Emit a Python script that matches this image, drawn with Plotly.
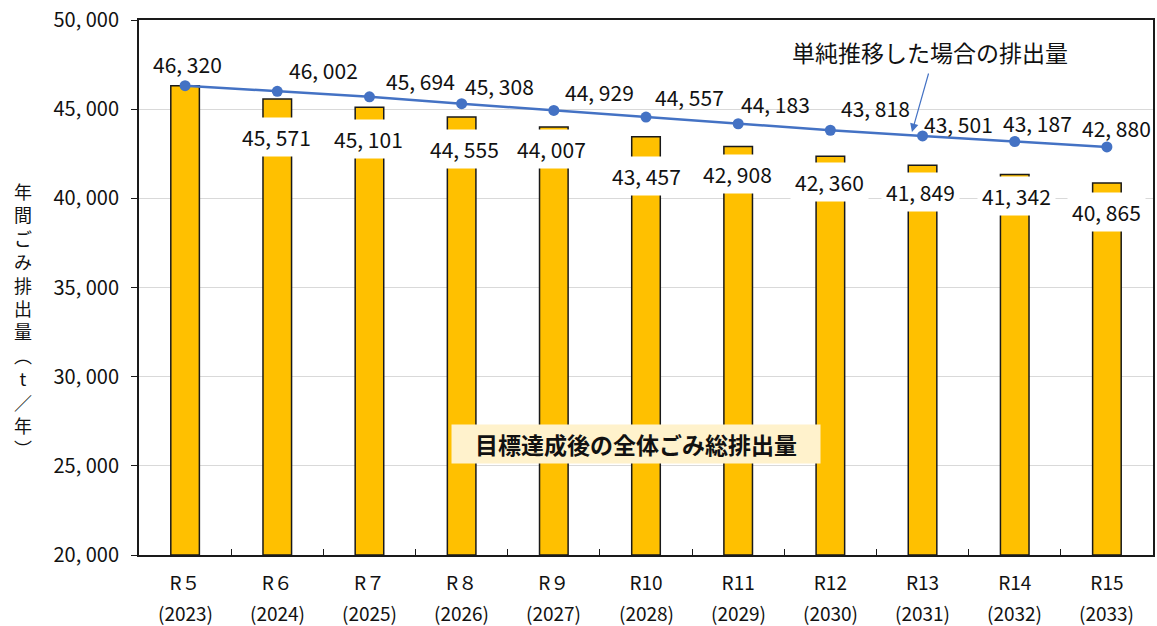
import plotly.graph_objects as go

# 年度ラベル
reiwa = ["R５", "R６", "R７", "R８", "R９", "R10", "R11", "R12", "R13", "R14", "R15"]
years = ["2023", "2024", "2025", "2026", "2027", "2028", "2029", "2030", "2031", "2032", "2033"]

# 目標達成後の全体ごみ総排出量（t/年）
target_total = [46320, 45571, 45101, 44555, 44007, 43457, 42908, 42360, 41849, 41342, 40865]
# 単純推移した場合の排出量（t/年）
trend_total = [46320, 46002, 45694, 45308, 44929, 44557, 44183, 43818, 43501, 43187, 42880]

y_ticks = [20000, 25000, 30000, 35000, 40000, 45000, 50000]

FONT = "Noto Sans CJK JP"
BAR_COLOR = "#FFC000"
LINE_COLOR = "#4472C4"
TEXT_COLOR = "#111111"


def fmt(v):
    return f"{v // 1000}, {v % 1000:03d}"


fig = go.Figure()

fig.add_trace(go.Bar(
    x=reiwa, y=[v - y_ticks[0] for v in target_total], base=y_ticks[0],
    width=0.31,
    marker=dict(color=BAR_COLOR, line=dict(color="#1a1a1a", width=1.5)),
    hoverinfo="skip",
))

fig.add_trace(go.Scatter(
    x=reiwa, y=trend_total, mode="lines+markers",
    line=dict(color=LINE_COLOR, width=2.5),
    marker=dict(color=LINE_COLOR, size=11),
    hoverinfo="skip",
))

annotations = []

# 西暦（年度ラベルの下段）
for cat, yr in zip(reiwa, years):
    annotations.append(dict(
        x=cat, xref="x", yref="paper", y=(555 - 612) / 535, text=f"({yr})",
        showarrow=False, xanchor="center", yanchor="middle",
        font=dict(family=FONT, size=19, color=TEXT_COLOR),
    ))

# 線グラフの数値ラベル（点からの位置ずらし: px）
line_label_shift = [(2, 22), (46, 21), (51, 16), (38, 18), (46, 18), (43, 20),
                    (37, 20), (45, 22), (36, 12), (23, 19), (10, 19)]
for cat, v, (dx, dy) in zip(reiwa, trend_total, line_label_shift):
    annotations.append(dict(
        x=cat, y=v, text=fmt(v), showarrow=False, xshift=dx, yshift=dy,
        xanchor="center", yanchor="middle",
        font=dict(family=FONT, size=21, color=TEXT_COLOR),
    ))

# 棒グラフの数値ラベル（棒の上端からの位置ずらし: px）
bar_label_shift = [None, (-1, 38), (-1, 32), (3, 32), (-2, 22), (0, 39),
                   (-1, 28), (-1, 26), (-2, 27), (2, 22), (0, 29)]
for cat, v, sh in zip(reiwa, target_total, bar_label_shift):
    if sh is None:
        continue
    dx, dy = sh
    annotations.append(dict(
        x=cat, y=v, text=fmt(v), showarrow=False, xshift=dx, yshift=-dy,
        xanchor="center", yanchor="middle",
        font=dict(family=FONT, size=21, color=TEXT_COLOR),
        bgcolor="white", borderpad=4,
    ))

# 系列名
annotations.append(dict(
    xref="paper", yref="paper", x=0.780, y=0.940, text="単純推移した場合の排出量",
    xanchor="center", yanchor="middle",
    showarrow=False, font=dict(family=FONT, size=23, color=TEXT_COLOR),
))
annotations.append(dict(
    xref="paper", yref="paper", x=0.7623, y=0.7907, text="",
    showarrow=True, ax=17, ay=-60, arrowhead=2, arrowsize=1.4, arrowwidth=1.2,
    arrowcolor=LINE_COLOR,
))
annotations.append(dict(
    xref="paper", yref="paper", x=0.490, y=0.2075, text="<b>目標達成後の全体ごみ総排出量</b>",
    xanchor="center", yanchor="middle",
    showarrow=False, font=dict(family=FONT, size=23, color=TEXT_COLOR),
    bgcolor="#FFF2CC", width=362, height=32, borderpad=3,
))

# 縦書きの軸タイトル（一文字ずつ改行）
axis_title_chars = ["年", "間", "ご", "み", "排", "出", "量", "︵", "t", "／", "年", "︶"]
annotations.append(dict(
    xref="paper", yref="paper", x=(23 - 139) / 1014, y=(555 - 319) / 535,
    text="<br>".join(axis_title_chars), showarrow=False,
    xanchor="center", yanchor="middle", align="center",
    font=dict(family=FONT, size=18, color=TEXT_COLOR),
))

fig.update_layout(
    width=1157, height=626,
    margin=dict(l=139, r=4, t=20, b=71, pad=0),
    paper_bgcolor="white", plot_bgcolor="white",
    showlegend=False,
    font=dict(family=FONT, color=TEXT_COLOR),
    annotations=annotations,
    xaxis=dict(
        tickmode="array", tickvals=reiwa, ticktext=reiwa, tickangle=0,
        range=[-0.5, len(reiwa) - 0.5], autorange=False,
        tickson="boundaries", ticks="inside", ticklen=6, tickcolor="#1a1a1a",
        showline=True, linecolor="#1a1a1a", linewidth=2, mirror=True,
        showgrid=False, tickfont=dict(family=FONT, size=19, color=TEXT_COLOR),
        ticklabelstandoff=10, automargin=False, fixedrange=True,
    ),
    yaxis=dict(
        range=[y_ticks[0], y_ticks[-1]], autorange=False, tickvals=y_ticks,
        ticktext=[fmt(v) for v in y_ticks],
        ticks="outside", ticklen=6, tickcolor="#1a1a1a",
        showline=True, linecolor="#1a1a1a", linewidth=2, mirror=True,
        showgrid=True, gridcolor="#D9D9D9", gridwidth=1.2,
        tickfont=dict(family=FONT, size=20, color=TEXT_COLOR),
        ticklabelstandoff=8, automargin=False, fixedrange=True,
    ),
)

fig.write_html("out.html")
